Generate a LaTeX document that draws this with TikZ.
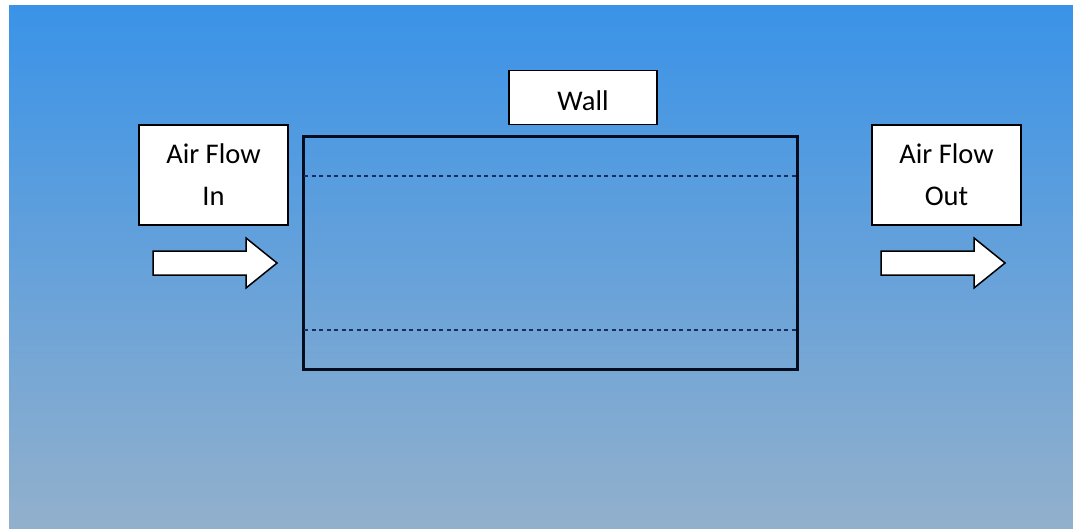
\documentclass[tikz,border=0pt]{standalone}
\usepackage{fontspec}
\setmainfont{Carlito}
\begin{document}
\begin{tikzpicture}[x=1pt,y=-1pt,
  label box/.style={draw=black, line width=1.5pt, fill=white, inner sep=0pt,
    font=\fontsize{28.5}{42}\selectfont, align=center},
  flow arrow/.style={draw=black, line width=1.5pt, fill=white, line join=miter},
  channel/.style={draw={rgb,255:red,5;green,12;blue,30}, line width=3pt},
  divider/.style={draw={rgb,255:red,25;green,45;blue,95}, line width=1.3pt, dash pattern=on 4pt off 3.5pt}]
\useasboundingbox (0,0) rectangle (1073,528);
\fill[white] (0,0) rectangle (1073,528);
\shade[top color={rgb,255:red,58;green,147;blue,232}, bottom color={rgb,255:red,146;green,176;blue,204}]
  (9,5) rectangle (1073,528);
% channel
\draw[channel] (303,136) rectangle (797,369);
\coordinate (d1l) at (304,176); \coordinate (d1r) at (796,176);
\coordinate (d2l) at (304,330); \coordinate (d2r) at (796,330);
\draw[divider] (d1l) -- (d1r);
\draw[divider] (d2l) -- (d2r);
% labels
\node[label box, minimum width=148pt, minimum height=54pt, text height=28pt, text depth=3pt] (wall) at (583,97.5) {Wall};
\node[label box, minimum width=149pt, minimum height=100pt] (in) at (213.5,175) {Air Flow\\In};
\node[label box, minimum width=149pt, minimum height=100pt] (out) at (946.5,175) {Air Flow\\Out};
% arrows
\draw[flow arrow] (153,251) -- (246,251) -- (246,238) -- (277,263) -- (246,288) -- (246,275) -- (153,275) -- cycle;
\draw[flow arrow] (881,251) -- (974,251) -- (974,238) -- (1005,263) -- (974,288) -- (974,275) -- (881,275) -- cycle;
\end{tikzpicture}
\end{document}
